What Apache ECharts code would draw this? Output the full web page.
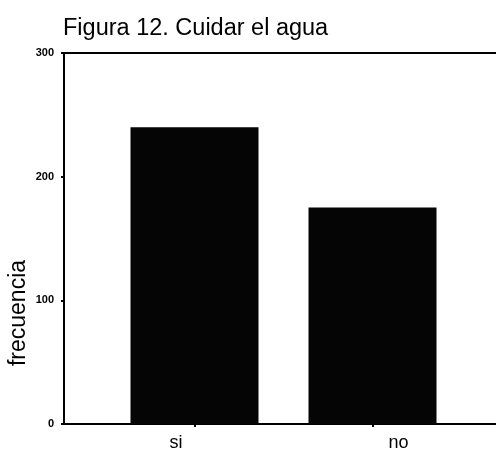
<!DOCTYPE html>
<html>
<head>
<meta charset="utf-8">
<script src="https://cdn.jsdelivr.net/npm/echarts@6/dist/echarts.min.js"></script>
<style>
  html, body { margin: 0; padding: 0; background: #fff; }
  #chart { width: 496px; height: 450px; }
</style>
</head>
<body>
<div id="chart"></div>
<script>
// values
const titulo = 'Figura 12. Cuidar el agua'
const categorias = ['si', 'no']
const frecuencias = [240, 175]
const yTicks = [0, 100, 200, 300]

const FONT = '"Liberation Sans", Arial, sans-serif'
const posiciones = categorias.map((c, i) => i + 1)

// labels sit a bit off their ticks in the original scan
const labelShift = { si: [0, 37, 0, 0], no: [0, 0, 0, 52] }

const chart = echarts.init(document.getElementById('chart'))

const option = {
  animation: false,
  title: {
    text: titulo,
    left: 58,
    top: 12,
    textStyle: { fontFamily: FONT, fontSize: 23.5, fontWeight: 'normal', color: '#000' }
  },
  grid: { left: 64, right: 0, top: 53, bottom: 26, outerBoundsMode: 'none' },
  xAxis: [
    {
      type: 'value',
      min: 0.2669,
      max: 2.6938,
      splitLine: { show: false },
      axisLine: { lineStyle: { color: '#000', width: 2 } },
      axisTick: { customValues: posiciones, length: 3, lineStyle: { color: '#000', width: 2 } },
      axisLabel: {
        customValues: posiciones,
        margin: 10,
        color: '#000',
        fontFamily: FONT,
        fontSize: 18,
        formatter: v => {
          const c = categorias[Math.round(v) - 1]
          return '{' + c + '|' + c + '}'
        },
        rich: {
          si: { padding: labelShift.si, fontFamily: FONT, fontSize: 18, color: '#000' },
          no: { padding: labelShift.no, fontFamily: FONT, fontSize: 18, color: '#000' }
        }
      }
    },
    {
      // top frame line
      type: 'value',
      position: 'top',
      min: 0.2669,
      max: 2.6938,
      splitLine: { show: false },
      axisLine: { show: true, lineStyle: { color: '#000', width: 2 } },
      axisTick: { show: false },
      axisLabel: { show: false }
    }
  ],
  yAxis: {
    type: 'value',
    min: yTicks[0],
    max: yTicks[yTicks.length - 1],
    interval: yTicks[1] - yTicks[0],
    name: 'frecuencia',
    nameLocation: 'middle',
    nameRotate: 90,
    nameGap: 34,
    nameMoveOverlap: false,
    nameTextStyle: { fontFamily: FONT, fontSize: 23, color: '#000', padding: [0, 149, 0, 0] },
    splitLine: { show: false },
    axisLine: { show: true, lineStyle: { color: '#000', width: 2 } },
    axisTick: { show: true, length: 3, lineStyle: { color: '#000', width: 2 } },
    axisLabel: { margin: 10, color: '#000', fontFamily: FONT, fontSize: 11, fontWeight: 'bold' }
  },
  series: [
    {
      type: 'bar',
      xAxisIndex: 0,
      barWidth: 128,
      itemStyle: { color: '#050505' },
      data: categorias.map((c, i) => [posiciones[i], frecuencias[i]])
    }
  ]
}

chart.setOption(option)
window.addEventListener('resize', () => chart.resize())
</script>
</body>
</html>
